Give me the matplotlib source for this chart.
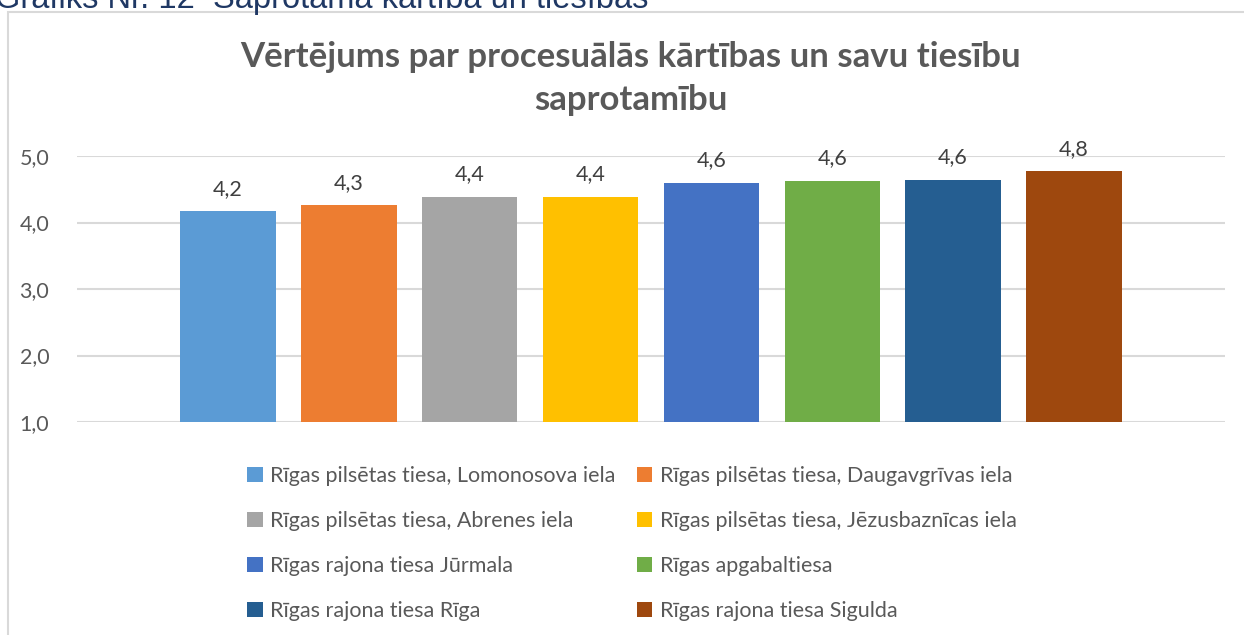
import matplotlib
matplotlib.use('Agg')
import matplotlib.pyplot as plt
from matplotlib.patches import Rectangle

courts = ['Rīgas pilsētas tiesa, Lomonosova iela',
          'Rīgas pilsētas tiesa, Daugavgrīvas iela',
          'Rīgas pilsētas tiesa, Abrenes iela',
          'Rīgas pilsētas tiesa, Jēzusbaznīcas iela',
          'Rīgas rajona tiesa Jūrmala',
          'Rīgas apgabaltiesa',
          'Rīgas rajona tiesa Rīga',
          'Rīgas rajona tiesa Sigulda']
scores = [4.17, 4.26, 4.39, 4.39, 4.60, 4.63, 4.64, 4.77]
colors = ['#5B9BD5', '#ED7D31', '#A5A5A5', '#FFC000',
          '#4472C4', '#70AD47', '#255E91', '#9E480E']
yticks = [1, 2, 3, 4, 5]

plt.rcParams['font.family'] = ['Lato', 'DejaVu Sans']

fig = plt.figure(figsize=(12.44, 6.35), dpi=100)
ax = fig.add_axes([77/1244, 213/635, 1148/1244, 266/635])

# chart frame, cut off at right and bottom like the screenshot
fig.patches.append(Rectangle((8/1244, -0.05), 1.1, 1 - 12/635 + 0.05,
                             transform=fig.transFigure, fill=False,
                             edgecolor='#d9d9d9', lw=1.5))
# caption above the chart, partly cut off in the screenshot
fig.text(-0.004, 1 - 8/635, 'Grafiks Nr. 12  Saprotamā kārtība un tiesības',
         family='Liberation Sans', fontsize=23.5, color='#1F3864',
         va='baseline', ha='left')

bars = []
for i, (name, val, c) in enumerate(zip(courts, scores, colors)):
    b = ax.bar(i, val - 1, bottom=1, width=0.79, color=c, label=name, zorder=2)
    bars.append(b)
    ax.annotate(('%.1f' % val).replace('.', ','), (i, val),
                xytext=(0, 9), textcoords='offset points',
                ha='center', va='bottom', fontsize=15.5, color='#404040')

ax.set_xlim(-1.25, 8.25)
ax.set_ylim(1, 5)
ax.set_yticks(yticks)
ax.set_yticklabels([('%.1f' % t).replace('.', ',') for t in yticks])
ax.set_xticks([])
ax.tick_params(axis='y', length=0, pad=20, labelsize=15.5, labelcolor='#595959')
ax.grid(axis='y', color='#d9d9d9', lw=1.5, zorder=0)
for s in ax.spines.values():
    s.set_visible(False)
ax.set_facecolor('none')

fig.text(0.507, 1 - 110/635,
         'Vērtējums par procesuālās kārtības un savu tiesību\nsaprotamību',
         ha='center', va='baseline', fontsize=25, fontweight='bold',
         color='#595959', linespacing=1.42)

# legend filled row by row, like the original
order = [0, 2, 4, 6, 1, 3, 5, 7]
leg = fig.legend([bars[k] for k in order], [courts[k] for k in order],
                 loc='upper center', bbox_to_anchor=(0.508, 1 - 447/635),
                 ncol=2, frameon=False, fontsize=15.5, labelcolor='#595959',
                 handlelength=0.7, handleheight=0.7, handletextpad=0.35,
                 labelspacing=1.15, columnspacing=1.0)

fig.savefig('out.png', dpi=100)
